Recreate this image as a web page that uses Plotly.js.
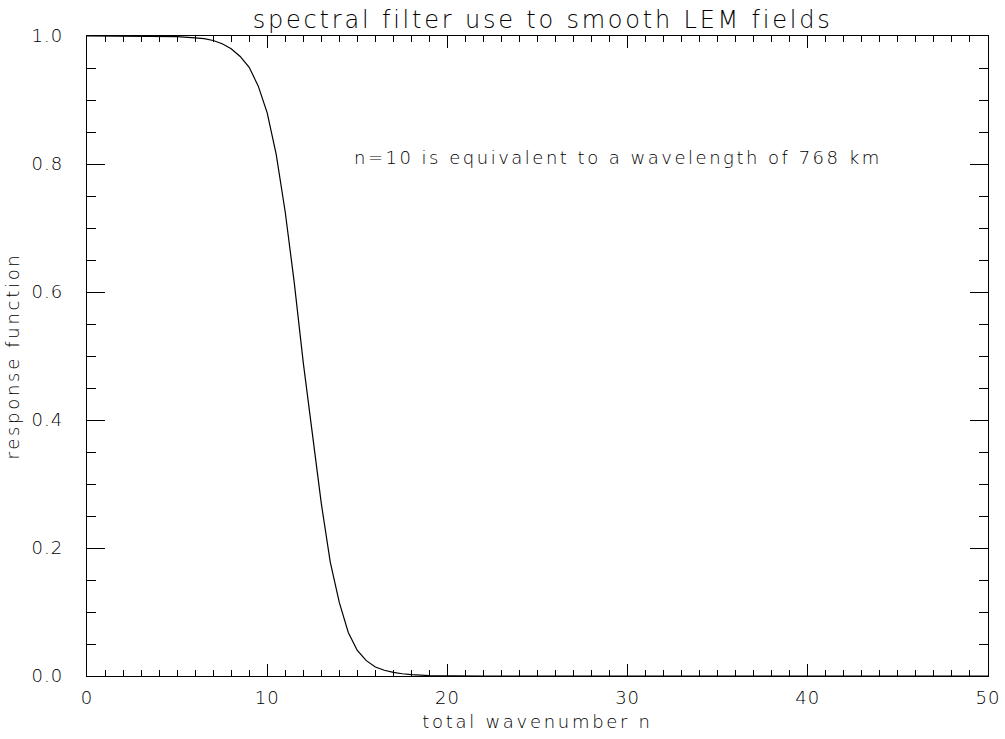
<!DOCTYPE html>
<html>
<head>
<meta charset="utf-8">
<script src="https://cdn.plot.ly/plotly-3.0.1.min.js"></script>
<style>
html,body{margin:0;padding:0;background:#fff;}
#chart{width:1005px;height:739px;}
#chart .gtitle{letter-spacing:2.8px;}
#chart .annotation-text{letter-spacing:2.5px;}
#chart .xtitle, #chart .ytitle{letter-spacing:2.7px;}
#chart .xtick text, #chart .ytick text{letter-spacing:1px;}
</style>
</head>
<body>
<div id="chart"></div>
<script>
// total wavenumber n
const wavenumber = [0,1,2,3,4,5,6,6.5,7,7.5,8,8.5,9,9.5,10,10.5,11,11.5,12,12.5,13,13.5,14,14.5,15,15.5,16,16.5,17,17.5,18,19,20,21,22,23,24,25,26,27,28,29,30,31,32,33,34,35,36,37,38,39,40,41,42,43,44,45,46,47,48,49,50];
// response function
const response = [1.0,1.0,1.0,1.0,1.0,0.999,0.997,0.996,0.993,0.988,0.980,0.968,0.951,0.922,0.880,0.815,0.725,0.615,0.490,0.383,0.270,0.178,0.115,0.068,0.040,0.024,0.014,0.009,0.0056,0.0035,0.002,0.0007,0.0002,0,0,0,0,0,0,0,0,0,0,0,0,0,0,0,0,0,0,0,0,0,0,0,0,0,0,0,0,0,0];

const titleText = "spectral filter use to smooth LEM fields";
const xTitle = "total wavenumber n";
const yTitle = "response function";
const noteText = "n=10 is equivalent to a wavelength of 768 km";
const xTickVals = [0,10,20,30,40,50];
const xTickText = ["0","10","20","30","40","50"];
const yTickVals = [0,0.2,0.4,0.6,0.8,1.0];
const yTickText = ["0.0","0.2","0.4","0.6","0.8","1.0"];

const FONT = "DejaVu Sans";
const TXT = "#000";
const W = 300;

const trace = {
  x: wavenumber, y: response, type: "scatter", mode: "lines",
  line: {color: "#000", width: 1.2}, hoverinfo: "skip", showlegend: false
};

const baseX = {
  range: [0, 50], showgrid: false, zeroline: false,
  showline: true, linecolor: "#000", linewidth: 1.3,
  ticks: "inside", ticklen: 12, tickwidth: 1, tickcolor: "#000",
  tickvals: xTickVals, ticktext: xTickText,
  minor: {dtick: 1, ticks: "inside", ticklen: 6, tickwidth: 1, tickcolor: "#000", showgrid: false}
};
const baseY = {
  range: [0, 1.0], showgrid: false, zeroline: false,
  showline: true, linecolor: "#000", linewidth: 1.3,
  ticks: "inside", ticklen: 18, tickwidth: 1, tickcolor: "#000",
  tickvals: yTickVals, ticktext: yTickText,
  minor: {dtick: 0.05, ticks: "inside", ticklen: 9, tickwidth: 1, tickcolor: "#000", showgrid: false}
};

const layout = {
  width: 1005, height: 739,
  margin: {l: 87, r: 17, t: 36, b: 63},
  paper_bgcolor: "#fff", plot_bgcolor: "#fff",
  font: {family: FONT, color: TXT, size: 18, weight: W},
  title: {text: titleText, x: 0.54, xanchor: "center", y: 0.973, yanchor: "middle",
          font: {family: FONT, size: 24, color: TXT, weight: W}},
  xaxis: Object.assign({}, baseX, {
    title: {text: xTitle, font: {family: FONT, size: 18, color: TXT, weight: W}, standoff: 8},
    tickfont: {family: FONT, size: 18, color: TXT, weight: W},
    ticklabelstandoff: 5
  }),
  yaxis: Object.assign({}, baseY, {
    title: {text: yTitle, font: {family: FONT, size: 18, color: TXT, weight: W}, standoff: 10},
    tickfont: {family: FONT, size: 18, color: TXT, weight: W},
    ticklabelstandoff: 19
  }),
  xaxis2: Object.assign({}, baseX, {overlaying: "x", side: "top", showticklabels: false, anchor: "y"}),
  yaxis2: Object.assign({}, baseY, {overlaying: "y", side: "right", showticklabels: false, anchor: "x"}),
  annotations: [{
    x: 15, y: 0.81, xref: "x", yref: "y", xanchor: "left", yanchor: "middle", xshift: 50,
    text: noteText, showarrow: false, font: {family: FONT, size: 18, color: TXT, weight: W}
  }]
};

const dummy = {x: [0], y: [0], xaxis: "x2", yaxis: "y2", type: "scatter", mode: "markers",
  marker: {opacity: 0}, hoverinfo: "skip", showlegend: false};

Plotly.newPlot("chart", [trace, dummy], layout, {displayModeBar: false, staticPlot: true});
</script>
</body>
</html>
